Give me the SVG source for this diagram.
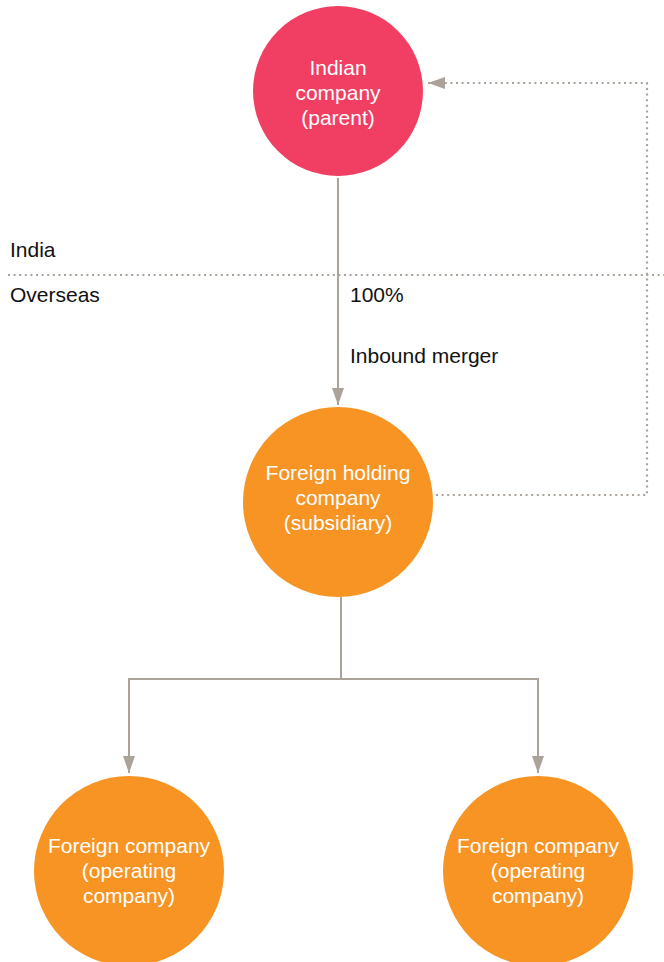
<svg xmlns="http://www.w3.org/2000/svg" width="664" height="962" viewBox="0 0 664 962">
  <defs>
    <style>
      .lbl { font-family: "Liberation Sans", Arial, sans-serif; font-size: 21px; fill: #111111; }
      .in { font-family: "Liberation Sans", Arial, sans-serif; font-size: 21px; fill: #ffffff; text-anchor: middle; }
      .solid { fill: none; stroke: #ABA29A; stroke-width: 2; }
      .dot { fill: none; stroke: #ABA29A; stroke-width: 2.2; stroke-dasharray: 2 3.6; }
      .parent { fill: #F03F63; }
      .sub { fill: #F79423; }
    </style>
    <marker id="arrow" markerUnits="userSpaceOnUse" markerWidth="17" markerHeight="12" refX="17" refY="6" orient="auto">
      <path d="M0,0 L17,6 L0,12 z" fill="#ABA29A"/>
    </marker>
  </defs>

  <rect width="664" height="962" fill="#ffffff"/>

  <!-- region divider and labels -->
  <g id="divider">
    <line class="dot" x1="8" y1="275" x2="664" y2="275"/>
    <text class="lbl" x="10" y="257">India</text>
    <text class="lbl" x="10" y="302">Overseas</text>
  </g>

  <!-- connectors -->
  <g id="connectors">
    <path class="solid" d="M338,178 V405" marker-end="url(#arrow)"/>
    <path class="solid" d="M341,597 V679 H129 V773" marker-end="url(#arrow)"/>
    <path class="solid" d="M341,679 H538 V773" marker-end="url(#arrow)"/>
    <path class="dot" d="M436,495 H647 V83 H428" marker-end="url(#arrow)"/>
    <text class="lbl" x="350" y="302">100%</text>
    <text class="lbl" x="350" y="363">Inbound merger</text>
  </g>

  <g id="indian-parent">
    <circle class="parent" cx="338" cy="91" r="85"/>
    <text class="in" x="338" y="75">Indian</text>
    <text class="in" x="338" y="100">company</text>
    <text class="in" x="338" y="125">(parent)</text>
  </g>

  <g id="foreign-holding">
    <circle class="sub" cx="338" cy="502" r="95"/>
    <text class="in" x="338" y="480">Foreign holding</text>
    <text class="in" x="338" y="505">company</text>
    <text class="in" x="338" y="530">(subsidiary)</text>
  </g>

  <g id="operating-left">
    <circle class="sub" cx="129" cy="871" r="95"/>
    <text class="in" x="129" y="853">Foreign company</text>
    <text class="in" x="129" y="878">(operating</text>
    <text class="in" x="129" y="903">company)</text>
  </g>

  <g id="operating-right">
    <circle class="sub" cx="538" cy="871" r="95"/>
    <text class="in" x="538" y="853">Foreign company</text>
    <text class="in" x="538" y="878">(operating</text>
    <text class="in" x="538" y="903">company)</text>
  </g>
</svg>
